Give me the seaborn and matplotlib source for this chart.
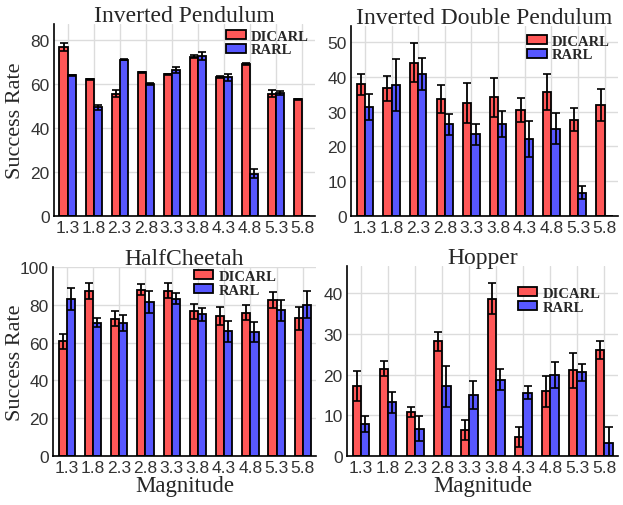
import numpy as np
import pandas as pd
import matplotlib
matplotlib.use("Agg")
import matplotlib.pyplot as plt
import seaborn as sns

# ==========================================
# DATA
# ==========================================
magnitudes = ["1.3", "1.8", "2.3", "2.8", "3.3", "3.8", "4.3", "4.8", "5.3", "5.8"]
methods = ["DICARL", "RARL"]

# Inverted Pendulum
ip_dicarl = [77.2, 62.3, 55.8, 65.4, 64.5, 72.6, 63.3, 69.2, 55.8, 53.2]
ip_dicarl_err = [1.8, 0.3, 1.5, 0.3, 0.4, 0.6, 0.4, 0.6, 1.5, 0.3]
ip_rarl = [64.1, 49.6, 71.2, 60.1, 66.5, 72.9, 63.2, 19.3, 56.0, 0.0]
ip_rarl_err = [0.3, 1.2, 0.3, 0.6, 1.4, 2.0, 1.5, 2.0, 1.0, 0.0]

# Inverted Double Pendulum
idp_dicarl = [37.8, 36.7, 44.1, 33.6, 32.5, 34.1, 30.4, 35.7, 27.7, 31.9]
idp_dicarl_err = [3.0, 3.6, 5.6, 4.0, 5.7, 5.7, 3.5, 5.1, 3.3, 4.6]
idp_rarl = [31.4, 37.6, 40.8, 26.3, 23.5, 26.5, 22.1, 25.1, 6.7, 0.0]
idp_rarl_err = [3.7, 7.4, 4.5, 2.9, 3.0, 3.8, 5.2, 4.4, 1.8, 0.0]

# HalfCheetah
hc_dicarl = [60.6, 87.2, 72.7, 88.0, 87.4, 76.5, 74.2, 75.8, 82.5, 72.8]
hc_dicarl_err = [3.8, 4.3, 4.1, 3.0, 3.9, 4.1, 4.7, 4.0, 4.3, 5.9]
hc_rarl = [83.2, 70.6, 70.4, 81.5, 83.2, 74.9, 66.0, 65.6, 77.2, 80.1]
hc_rarl_err = [5.9, 2.2, 4.3, 5.6, 3.0, 3.6, 5.5, 5.5, 5.6, 7.0]

# Hopper
hop_dicarl = [17.3, 21.5, 10.9, 28.2, 6.4, 38.7, 4.7, 15.9, 21.1, 26.0]
hop_dicarl_err = [3.7, 1.9, 1.2, 2.3, 2.5, 3.8, 2.4, 3.8, 4.3, 2.2]
hop_rarl = [7.9, 13.2, 6.7, 17.1, 15.0, 18.8, 15.6, 19.8, 20.6, 3.3]
hop_rarl_err = [1.9, 2.6, 3.1, 5.0, 3.4, 2.7, 1.5, 3.2, 2.1, 3.8]

panels = [
    dict(title="Inverted Pendulum", dic=ip_dicarl, dic_err=ip_dicarl_err,
         rarl=ip_rarl, rarl_err=ip_rarl_err, ylim=87.5, yticks=[0, 20, 40, 60, 80],
         rect=[54, 25, 261, 192], leg=(0.66, 0.97), ylabel=True, xlabel=False),
    dict(title="Inverted Double Pendulum", dic=idp_dicarl, dic_err=idp_dicarl_err,
         rarl=idp_rarl, rarl_err=idp_rarl_err, ylim=54.6, yticks=[0, 10, 20, 30, 40, 50],
         rect=[351, 27, 267, 190], leg=(0.66, 0.955), ylabel=False, xlabel=False),
    dict(title="HalfCheetah", dic=hc_dicarl, dic_err=hc_dicarl_err,
         rarl=hc_rarl, rarl_err=hc_rarl_err, ylim=100, yticks=[0, 20, 40, 60, 80, 100],
         rect=[53, 268, 263, 189], leg=(0.535, 0.985), ylabel=True, xlabel=True),
    dict(title="Hopper", dic=hop_dicarl, dic_err=hop_dicarl_err,
         rarl=hop_rarl, rarl_err=hop_rarl_err, ylim=46.7, yticks=[0, 10, 20, 30, 40],
         rect=[347, 267, 271, 190], leg=(0.63, 0.89), ylabel=False, xlabel=True),
]

sns.set_style("whitegrid", {"grid.color": "#dcdcdc", "axes.edgecolor": "black"})
plt.rcParams["font.family"] = ["Liberation Sans", "DejaVu Sans"]

W, H = 623, 506
fig = plt.figure(figsize=(W / 100, H / 100), dpi=100)

palette = {"DICARL": "#ff5757", "RARL": "#5757ff"}
serif = ["Liberation Serif", "DejaVu Serif"]

for p in panels:
    x0, y0, w, h = p["rect"]
    ax = fig.add_axes([x0 / W, 1 - (y0 + h) / H, w / W, h / H])

    df = pd.DataFrame({
        "Magnitude": magnitudes * 2,
        "Method": ["DICARL"] * len(magnitudes) + ["RARL"] * len(magnitudes),
        "Value": p["dic"] + p["rarl"],
    })
    sns.barplot(data=df, x="Magnitude", y="Value", hue="Method", order=magnitudes,
                hue_order=methods, palette=palette, width=0.62, errorbar=None,
                edgecolor="black", linewidth=1.3, saturation=1, ax=ax, zorder=2)

    # error bars at bar centers
    for cont, err in zip(ax.containers, [p["dic_err"], p["rarl_err"]]):
        xs = [b.get_x() + b.get_width() / 2 for b in cont]
        ys = [b.get_height() for b in cont]
        e = np.array(err)
        keep = e > 0
        ax.errorbar(np.array(xs)[keep], np.array(ys)[keep], yerr=e[keep], fmt="none",
                    ecolor="black", elinewidth=1.3, capsize=2.8, capthick=1.2, zorder=3)

    ax.set_xlim(-0.52, 9.5)
    ax.set_ylim(0, p["ylim"])
    ax.set_yticks(p["yticks"])
    ax.grid(True, axis="both", color="#dcdcdc", linewidth=1.0)
    ax.tick_params(axis="both", labelsize=12.5, length=0, pad=3, colors="#333333")
    for s in ["top", "right"]:
        ax.spines[s].set_visible(False)
    for s in ["left", "bottom"]:
        ax.spines[s].set_color("black")
        ax.spines[s].set_linewidth(1.2)
    ax.set_axisbelow(True)

    ax.set_title(p["title"], family=serif, fontsize=17, pad=2)
    ax.set_ylabel("Success Rate" if p["ylabel"] else "", family=serif, fontsize=16)
    if p["ylabel"]:
        ax.yaxis.set_label_coords((25 - x0) / w, 0.5)
    ax.set_xlabel("Magnitude" if p["xlabel"] else "", family=serif, fontsize=16.5, labelpad=0)

    handles, labels = ax.get_legend_handles_labels()
    ax.legend(handles, labels, loc="upper left", bbox_to_anchor=p["leg"], frameon=False,
              prop={"family": serif, "weight": "bold", "size": 10.5}, handlelength=1.35,
              handleheight=0.55, handletextpad=0.35, labelspacing=0.05,
              borderaxespad=0, borderpad=0)

fig.savefig("out.png", dpi=100)
